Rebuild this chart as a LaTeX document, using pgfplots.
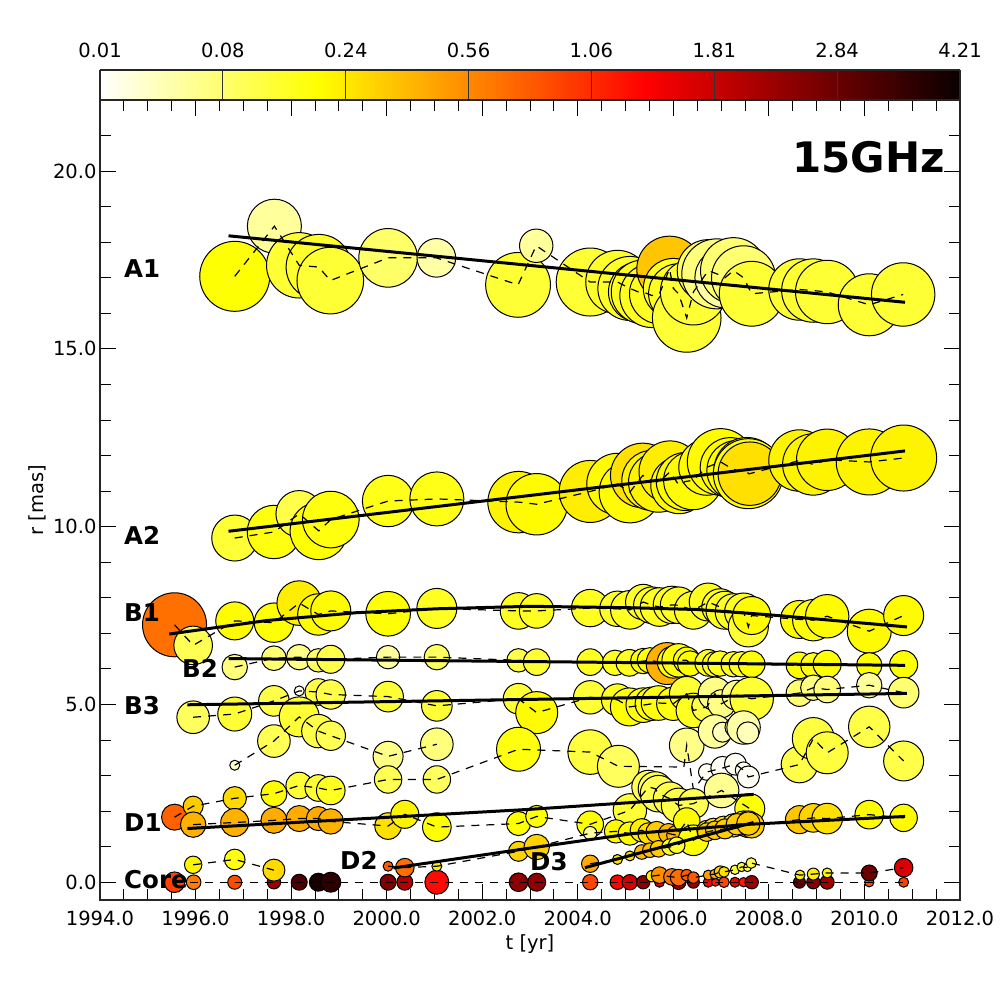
\documentclass[border=0pt]{standalone}
\usepackage{pgfplots}
\usepackage{pgfplotstable}
\usepackage{fontspec}
\pgfplotsset{compat=1.18}
\setmainfont{DejaVu Sans}
\newcommand{\fs}{\fontsize{19.5}{21}\selectfont}
\newcommand{\lb}{\fontsize{24.5}{26}\selectfont\bfseries}
\pgfplotsset{
 colormap={hotr}{rgb(0pt)=(1,1,1); rgb(254pt)=(1,1,0); rgb(635pt)=(1,0,0); rgb(1000pt)=(0.0416,0,0)},
 frame/.style={at={(100pt,100pt)}, anchor=south west, scale only axis, width=860pt, height=800pt,
   xmin=1994, xmax=2012, ymin=-0.5, ymax=22, point meta min=0, point meta max=1, clip=false},
 ov/.style={frame, hide axis},
 bub/.style={only marks, scatter, mark=*, scatter src=explicit, line width=1pt,
   scatter/use mapped color={draw=black,fill=mapped color},
   visualization depends on={\thisrow{R} \as \perR},
   scatter/@pre marker code/.append style={/tikz/mark size=\perR pt}},
 dsh/.style={black, no markers, line width=1.2pt, dash pattern=on 8pt off 7pt},
 fit/.style={black, no markers, line width=3pt}
}
\newcommand{\bubl}[1]{\begin{axis}[ov]\addplot[bub] table[x=t,y=r,meta=v]{#1};\end{axis}}
\newcommand{\dshl}[1]{\begin{axis}[ov]\addplot[dsh] table[x=t,y=r]{#1};\end{axis}}
\pgfplotstableread{
t r R v
1996.82 17.04 35 .25
1997.65 18.45 27 .10
1998.17 17.35 32.7 .2
1998.58 17.3 32.7 .21
1998.82 16.92 33.3 .2
2000.03 17.56 29.3 .15
2001.04 17.56 19.3 .09
2002.75 16.8 32.4 .2
2003.13 17.9 16.7 .1
2004.26 16.88 34 .2
2004.83 16.88 31.7 .21
2005.09 16.7 32 .21
2005.27 16.6 30 .22
2005.37 16.6 32 .22
2005.55 16.5 32 .22
2005.71 16.55 30 .22
2005.92 17.25 32.7 .34
2006.0 16.7 30 .22
2006.11 16.55 30 .22
2006.28 15.87 34.3 .2
2006.42 16.6 33 .2
2006.73 17.2 31 .15
2006.91 17.11 35 .13
2007.08 17.0 30 .09
2007.26 17.2 33 .14
2007.47 17.0 32 .14
2007.64 16.55 32.4 .2
2008.64 16.67 30.7 .2
2008.93 16.64 31.7 .2
2009.22 16.6 31.7 .2
2010.1 16.24 31 .2
2010.81 16.53 31.7 .2
}\tAone
\pgfplotstableread{
t r R v
1996.82 9.68 23 .2
1997.64 9.85 26.7 .24
1998.17 10.36 23.3 .18
1998.58 9.88 28.7 .25
1998.83 10.2 28.3 .24
2000.03 10.72 25.7 .23
2001.05 10.78 27 .23
2002.76 10.69 30.7 .27
2003.14 10.63 30.7 .26
2004.26 10.99 31 .28
2004.83 11.2 30.7 .26
2005.09 10.97 30.7 .26
2005.36 11.44 32.3 .3
2005.55 11.3 30 .27
2005.69 11.25 30 .27
2005.93 11.54 31 .28
2006.12 11.16 28.3 .26
2006.25 11.27 29 .26
2006.41 11.3 29.3 .26
2006.7 11.67 28 .26
2006.99 11.82 33.3 .26
2007.19 11.66 30 .26
2007.33 11.58 30 .26
2007.54 11.58 33 .26
2007.57 11.49 35 .25
2007.6 11.49 31.7 .3
2008.64 11.86 30.7 .27
2008.93 11.75 30.7 .27
2009.22 11.88 30.7 .27
2010.1 11.82 33 .27
2010.82 11.93 33 .27
}\tAtwo
\pgfplotstableread{
t r R v
1995.56 7.24 32 .467
1995.95 6.66 19.3 .17
1996.82 7.35 19 .26
1997.64 7.3 19.7 .25
1998.17 7.85 22.3 .28
1998.57 7.53 20.7 .26
1998.83 7.63 20 .26
2000.03 7.55 22.3 .25
2001.05 7.7 20 .22
2002.76 7.63 18.3 .22
2003.14 7.63 17.3 .22
2004.26 7.71 18.7 .22
2004.83 7.69 17.7 .21
2005.09 7.66 19.3 .22
2005.37 7.88 17.7 .21
2005.55 7.79 18.3 .22
2005.71 7.74 19.3 .22
2005.97 7.8 18.7 .22
2006.11 7.79 18.3 .22
2006.42 7.65 19 .22
2006.73 7.88 19 .22
2006.98 7.74 18.3 .22
2007.08 7.65 19 .22
2007.26 7.6 18.3 .22
2007.47 7.6 19 .22
2007.57 7.18 20 .2
2007.64 7.5 19 .26
2008.64 7.39 19 .26
2008.93 7.37 20.7 .24
2009.22 7.48 21.7 .26
2010.1 7.06 22 .26
2010.82 7.5 20 .26
}\tBone
\pgfplotstableread{
t r R v
1996.82 6.05 12.7 .13
1997.64 6.3 12.3 .14
1998.17 6.33 12.7 .12
1998.57 6.24 11.7 .15
1998.83 6.27 14 .18
2000.03 6.33 11.7 .1
2001.05 6.33 12.7 .16
2002.76 6.24 11.7 .18
2003.14 6.19 13.3 .2
2004.26 6.19 13.3 .22
2004.78 6.17 12.7 .22
2005.08 6.17 13.3 .22
2005.37 6.22 12.7 .24
2005.51 6.24 12.7 .24
2005.87 6.15 21 .37
2006.0 6.19 16 .24
2006.11 6.24 16.7 .24
2006.28 6.24 13.3 .25
2006.35 6.15 12.7 .25
2006.73 6.17 13.3 .22
2006.87 6.13 12.7 .22
2006.98 6.15 12.7 .22
2007.26 6.13 12.7 .22
2007.43 6.13 12.7 .22
2007.64 6.13 13.3 .25
2008.64 6.1 13.3 .25
2008.93 6.1 12.7 .23
2009.22 6.13 14 .25
2010.1 6.1 12.7 .25
2010.82 6.12 14 .25
}\tBtwo
\pgfplotstableread{
t r R v
1995.95 4.64 16.3 .16
1996.82 4.73 17 .2
1997.64 5.1 15.3 .18
1998.17 5.38 5 .02
1998.57 5.35 13.3 .18
1998.83 5.28 14.7 .18
2000.03 5.22 15.3 .2
2001.05 4.96 15.3 .2
2002.76 5.16 15.3 .2
2003.14 4.77 21 .26
2004.26 5.2 16.7 .2
2004.83 5.13 16 .22
2005.08 4.93 19 .25
2005.37 4.98 17.3 .24
2005.55 5.02 16.7 .24
2005.69 5.04 17.3 .24
2006.0 5.02 16.7 .24
2006.28 5.3 17.3 .2
2006.42 4.83 17.3 .22
2006.7 4.93 15 .18
2006.87 5.3 16.7 .12
2007.01 5.02 14 .12
2007.33 5.26 15 .12
2007.64 5.16 21.7 .2
2008.64 5.32 13.3 .14
2008.93 5.47 12.7 .12
2009.22 5.42 13.3 .13
2010.1 5.54 12.7 .1
2010.82 5.33 15.3 .14
}\tBthree
\pgfplotstableread{
t r R v
1996.82 3.29 5 .05
1997.64 3.97 16.3 .17
1998.17 4.65 20 .2
1998.57 4.25 16.7 .18
1998.83 4.12 14.7 .17
2000.03 3.54 15 .12
2001.05 3.88 16.3 .13
}\tEone
\pgfplotstableread{
t r R v
2006.28 3.85 17.3 .12
2006.87 4.24 16.7 .1
2007.03 4.22 10 .07
2007.29 4.36 10 .08
2007.47 4.35 16.7 .09
2007.56 4.2 11 .07
}\tEtwo
\pgfplotstableread{
t r R v
1995.56 1.83 13 .49
1995.95 2.14 10 .33
1996.82 2.36 11.7 .31
1997.64 2.49 13 .26
1998.17 2.72 13.3 .2
1998.57 2.65 13.3 .2
1998.83 2.58 14.3 .22
2000.03 2.89 13.7 .17
2001.05 2.89 13.7 .16
2002.76 3.74 22 .24
2004.26 3.66 22.3 .19
2004.85 3.26 21 .16
2006.7 3.1 8.3 .01
2007.03 3.21 11.7 .01
2007.3 3.32 11 .01
2007.47 3.15 8.3 .01
2007.57 2.96 11 .01
2008.64 3.31 18.3 .18
2008.93 4.04 21 .19
2009.22 3.64 21 .19
2010.1 4.37 20.7 .18
2010.82 3.41 20 .18
}\tF
\pgfplotstableread{
t r
1995.56 1.83
1995.95 2.14
1996.82 2.36
1997.64 2.49
1998.17 2.72
1998.57 2.65
1998.83 2.58
2000.03 2.89
2001.05 2.89
2002.76 3.74
2004.26 3.66
2004.85 3.26
2006.22 3.24
2006.28 3.85
2006.35 3.24
2006.42 2.6
2006.7 3.1
2007.03 3.21
2007.3 3.32
2007.47 3.15
2007.57 2.96
2008.64 3.31
2008.93 4.04
2009.22 3.64
2010.1 4.37
2010.82 3.41
}\tFd
\pgfplotstableread{
t r R v
1995.95 1.62 12.7 .37
1996.82 1.68 14 .37
1997.64 1.74 13 .38
1998.17 1.79 13 .38
1998.57 1.79 12 .38
1998.83 1.71 12.7 .37
2000.03 1.58 13.3 .3
2000.38 1.91 14 .27
2001.05 1.55 14.3 .25
2002.76 1.65 12 .25
2003.14 1.85 11 .25
2004.26 1.63 13.3 .25
2005.09 2.02 16.7 .2
2005.48 2.68 16.7 .17
2005.62 2.63 17 .17
2005.69 2.49 18.3 .17
2005.93 2.35 16.7 .18
2006.11 2.16 17.3 .18
2006.42 2.21 15 .17
2007.01 2.58 17.3 .11
2007.6 2.07 15 .25
}\tDone
\pgfplotstableread{
t r R v
2000.03 0.45 5 .5
2000.38 0.41 9.3 .47
2001.05 0.45 5 .28
2002.76 0.87 10 .32
2003.14 0.99 12.7 .32
2004.26 1.38 6.7 .1
2004.8 1.43 11.7 .26
2005.09 1.37 11.7 .26
2005.34 1.46 11.7 .28
2005.48 1.37 10.7 .3
2005.65 1.41 10.7 .33
2005.9 1.37 10 .36
2006.07 1.32 10 .36
2006.28 1.72 13.3 .26
2006.42 1.18 15.3 .25
2006.7 1.46 10 .31
2006.84 1.5 10.7 .31
2007.05 1.55 11 .3
2007.26 1.6 11.7 .3
2007.47 1.65 12.7 .3
2007.57 1.63 13.3 .31
2007.64 1.6 12.7 .33
2008.64 1.76 14 .34
2008.93 1.81 14.3 .32
2009.22 1.79 15.3 .3
2010.1 1.9 14.3 .26
2010.82 1.81 13.7 .26
}\tDtwo
\pgfplotstableread{
t r R v
2004.26 0.52 8.7 .38
2004.83 0.64 5 .3
2005.09 0.74 5 .3
2005.34 0.85 7.3 .36
2005.51 0.9 7.3 .35
2005.69 0.94 8.3 .33
2005.93 0.99 8.3 .22
2006.07 1.04 8.3 .2
2006.7 1.41 9.3 .33
2006.87 1.46 9.3 .33
2007.08 1.5 10 .33
2007.33 1.63 10.7 .33
2007.57 1.65 11.7 .33
}\tDthree
\pgfplotstableread{
t r R v
1995.95 0.49 8.7 .27
1996.82 0.64 10.3 .24
1997.64 0.34 11 .31
}\tCa
\pgfplotstableread{
t r R v
2005.55 .17 5.7 .28
2005.71 .2 8.3 .42
2005.97 .15 8.3 .46
2006.11 .13 8.3 .47
2006.28 .2 5.7 .5
2006.42 .13 5.7 .5
2006.73 .2 5 .4
2006.87 .23 5 .38
2006.98 .29 6 .33
2007.06 .29 5.3 .3
2007.29 .35 4.7 .2
2007.43 .43 4.7 .2
2007.55 .41 4 .15
2007.63 .54 5.3 .18
2008.65 .2 5 .28
2008.93 .23 6 .28
2009.22 .26 5 .26
2010.1 .26 8 .85
2010.82 .41 9.3 .69
}\tCb
\pgfplotstableread{
t r R v
1995.56 0 10.3 .54
1995.96 0 7.3 .45
1996.82 0 7 .52
1997.64 0 6.7 .78
1998.17 0 8 .9
1998.57 0 9 .98
1998.83 0 10 .95
2000.03 0 8 .82
2000.38 0 8 .75
2001.05 0 12 .62
2002.76 0 9.3 .8
2003.14 0 9 .8
2004.26 0 7.7 .53
2004.83 0 7.3 .63
2005.09 0 7.7 .7
2005.37 0 6.7 .8
2005.71 0 5 .7
2006.11 0 7.3 .8
2006.42 0 6 .8
2006.73 0 5 .63
2006.88 0 4 .6
2007.06 0 5.3 .53
2007.29 0 5 .65
2007.47 0 4.7 .6
2007.64 0 6.7 .78
2008.64 0 6 .88
2008.93 0 6.7 .82
2009.22 0 7 .78
2010.1 0 4.7 .52
2010.82 0 5 .54
}\tCore
\begin{document}
\begin{tikzpicture}[x=1pt,y=1pt]
\path[use as bounding box] (0,0) rectangle (1000,1000);
\begin{axis}[
 frame,
 xtick={1994,1996,...,2012}, ytick={0,5,...,20},
 minor xtick={1994,1994.5,...,2012}, minor ytick={0,1,...,22},
 tick align=inside, xtick pos=both, ytick pos=both,
 major tick length=16pt, minor tick length=11pt,
 tick style={black, line width=0.9pt},
 axis line style={line width=1.4pt, black!85},
 xticklabel pos=lower, yticklabel pos=left,
 tick label style={font=\fs},
 /pgf/number format/assume math mode=true,
 xticklabel style={yshift=-7pt,/pgf/number format/fixed,/pgf/number format/fixed zerofill,/pgf/number format/precision=1,/pgf/number format/1000 sep={}},
 yticklabel style={/pgf/number format/fixed,/pgf/number format/fixed zerofill,/pgf/number format/precision=1},
 xlabel={t [yr]}, ylabel={r [mas]},
 every axis x label/.style={at={(axis description cs:0.5,-0.055)},anchor=center,font=\fs},
 every axis y label/.style={at={(axis description cs:-0.0733,0.5)},rotate=90,anchor=center,font=\fs},
 colorbar sampled,
 colorbar horizontal,
 colorbar style={
   at={(0,1)}, anchor=south west, scale only axis, width=860pt, height=30pt,
   samples=257,
   xmin=0, xmax=1, ymin=0, ymax=1,
   xtick={0,0.142857,0.285714,0.428571,0.571429,0.714286,0.857143,1},
   xticklabels={0.01,0.08,0.24,0.56,1.06,1.81,2.84,4.21},
   xticklabel pos=upper, xtick pos=upper, tick align=inside,
   major tick length=30pt, minor tick length=0pt,
   tick style={black!80, line width=0.9pt},
   axis line style={line width=1.4pt, black!85},
   xticklabel style={font=\fs, yshift=9pt},
   ytick=\empty,
 },
]
\addplot[bub] table[x=t,y=r,meta=v]{\tCore};
\end{axis}
\dshl{\tCore}
\bubl{\tAone}
\dshl{\tAone}
\bubl{\tAtwo}
\dshl{\tAtwo}
\bubl{\tBone}
\dshl{\tBone}
\bubl{\tBtwo}
\dshl{\tBtwo}
\bubl{\tBthree}
\dshl{\tBthree}
\bubl{\tEone}
\dshl{\tEone}
\bubl{\tEtwo}
\bubl{\tF}
\dshl{\tFd}
\bubl{\tDone}
\dshl{\tDone}
\bubl{\tDtwo}
\dshl{\tDtwo}
\bubl{\tDthree}
\dshl{\tDthree}
\bubl{\tCa}
\dshl{\tCa}
\bubl{\tCb}
\dshl{\tCb}
\begin{axis}[ov]
% fitted tracks
\addplot[fit] coordinates {(1996.69,18.18) (2010.85,16.31)};
\addplot[fit] coordinates {(1996.69,9.87) (2010.85,12.13)};
\addplot[fit] coordinates {(1995.45,6.98) (1997.49,7.36) (1999.37,7.58) (2001.05,7.69) (2003.0,7.76) (2005.09,7.72) (2006.49,7.67) (2008.02,7.52) (2009.7,7.32) (2010.89,7.18)};
\addplot[fit] coordinates {(1996.69,6.29) (2010.85,6.1)};
\addplot[fit] coordinates {(1995.83,4.99) (2010.89,5.31)};
\addplot[fit] coordinates {(1995.83,1.51) (2003.0,2.05) (2007.68,2.47)};
\addplot[fit] coordinates {(2000.14,0.4) (2003.0,0.96) (2005.16,1.37) (2007.6,1.63) (2010.85,1.85)};
\addplot[fit] coordinates {(2004.15,0.41) (2007.68,1.68)};
% labels
\node[anchor=west,inner sep=0pt,font=\lb] at (axis description cs:0.0279,0.7888) {A1};
\node[anchor=west,inner sep=0pt,font=\lb] at (axis description cs:0.0279,0.4563) {A2};
\node[anchor=west,inner sep=0pt,font=\lb] at (axis description cs:0.0279,0.3588) {B1};
\node[anchor=west,inner sep=0pt,font=\lb] at (axis description cs:0.0953,0.29) {B2};
\node[anchor=west,inner sep=0pt,font=\lb] at (axis description cs:0.0279,0.2425) {B3};
\node[anchor=west,inner sep=0pt,font=\lb] at (axis description cs:0.0279,0.0963) {D1};
\node[anchor=west,inner sep=0pt,font=\lb] at (axis description cs:0.2791,0.05) {D2};
\node[anchor=west,inner sep=0pt,font=\lb] at (axis description cs:0.5,0.0475) {D3};
\node[anchor=west,inner sep=0pt,font=\lb] at (axis description cs:0.0279,0.025) {Core};
\node[anchor=east,inner sep=0pt,font=\fontsize{42}{44}\selectfont\bfseries] at (axis description cs:0.9826,0.9288) {15GHz};
\end{axis}
\end{tikzpicture}
\end{document}
